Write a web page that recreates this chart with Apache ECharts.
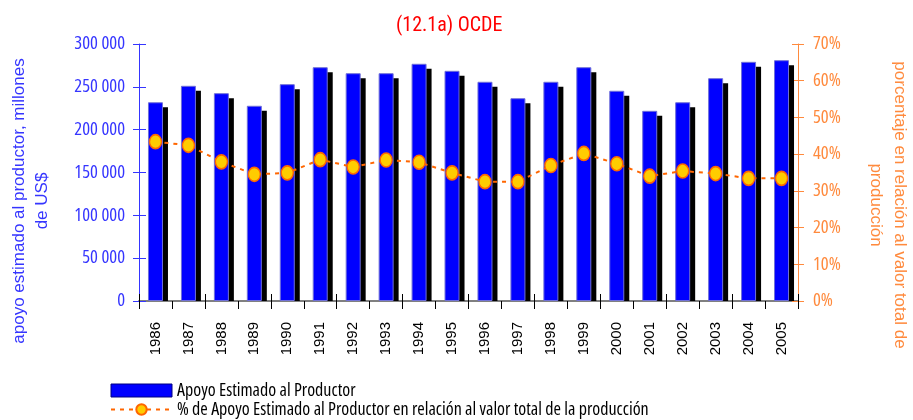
<!DOCTYPE html>
<html>
<head>
<meta charset="utf-8">
<script src="https://cdn.jsdelivr.net/npm/echarts@6/dist/echarts.min.js"></script>
<style>
  html, body { margin: 0; padding: 0; background: #ffffff; }
  #chart { width: 913px; height: 420px; }
</style>
</head>
<body>
<div id="chart"></div>
<script>
// Years on the category axis
const years = ['1986', '1987', '1988', '1989', '1990', '1991', '1992', '1993', '1994', '1995',
               '1996', '1997', '1998', '1999', '2000', '2001', '2002', '2003', '2004', '2005'];

// Producer support estimate, millions of US$
const apoyoProductor = [232000, 251200, 242600, 227900, 253100, 272900, 265900, 265900, 276900, 268700,
                        255900, 236700, 255900, 272900, 245400, 222000, 232000, 260100, 279200, 281100];

// Support as % of the total value of production
const porcentajeProduccion = [43.4, 42.4, 37.9, 34.5, 34.9, 38.5, 36.5, 38.4, 37.8, 34.9,
                              32.5, 32.5, 36.9, 40.2, 37.4, 34.0, 35.4, 34.7, 33.4, 33.4];

// Axis ranges
const leftAxis = { min: 0, max: 300000, interval: 50000 };
const rightAxis = { min: 0, max: 70, interval: 10 };

const serieBarras = 'Apoyo Estimado al Productor';
const serieLinea = '% de Apoyo Estimado al Productor en relación al valor total de la producción';
const tituloTexto = '(12.1a) OCDE';
const nombreEjeIzq = 'apoyo estimado al productor, millones\nde US$';
const nombreEjeDer = 'porcentaje en relación al valor total de\nproducción';

// Condensed faces: Open Sans at its condensed width for labels, Roboto Condensed for the title
const COND_FAMILY = '"Open Sans", "Roboto Condensed", sans-serif';
const COND_STYLE = 'condensed';
const TITLE_FAMILY = '"Roboto Condensed", sans-serif';
const REGULAR = '"Liberation Sans", Arial, sans-serif';
const BLUE = '#3535ff';
const ORANGE = '#ff8a3d';
const BAR_W = 15;
const SHADOW = 5;

const fmtMiles = v => String(v).replace(/\B(?=(\d{3})+(?!\d))/g, ' ');

const chart = echarts.init(document.getElementById('chart'), null, { renderer: 'canvas' });

chart.setOption({
  animation: false,
  backgroundColor: '#ffffff',
  title: {
    text: tituloTexto,
    left: 391,
    top: 11,
    textStyle: { color: '#ff0000', fontSize: 20, fontWeight: 'normal', fontFamily: TITLE_FAMILY }
  },
  grid: { left: 139, right: 115, top: 44, bottom: 119, containLabel: false },
  legend: {
    orient: 'vertical',
    left: 110,
    top: 381,
    height: 80,
    itemWidth: 61,
    itemHeight: 13,
    itemGap: 0,
    padding: 0,
    selectedMode: false,
    textStyle: { color: '#000000', fontSize: 18, fontStyle: COND_STYLE, fontFamily: COND_FAMILY, lineHeight: 19 },
    data: [
      { name: serieBarras, icon: 'rect',
        itemStyle: { color: '#0000ff', borderColor: '#000080', borderWidth: 1 } },
      { name: serieLinea }
    ]
  },
  xAxis: [
    {
      type: 'category',
      data: years,
      position: 'bottom',
      boundaryGap: true,
      axisLine: { show: true, lineStyle: { color: '#808080', width: 2 } },
      axisTick: { show: true, inside: false, length: 8, lineStyle: { color: '#000000', width: 1 } },
      axisLabel: { rotate: 90, margin: 21, color: '#000000', fontSize: 15, fontFamily: REGULAR },
      splitLine: { show: false }
    },
    {
      type: 'category',
      data: years,
      position: 'bottom',
      boundaryGap: true,
      axisLine: { show: false },
      axisTick: { show: true, inside: true, length: 7, lineStyle: { color: '#000000', width: 1 } },
      axisLabel: { show: false },
      splitLine: { show: false }
    }
  ],
  yAxis: [
    {
      type: 'value',
      position: 'left',
      min: leftAxis.min, max: leftAxis.max, interval: leftAxis.interval,
      axisLine: { show: true, lineStyle: { color: BLUE, width: 1 } },
      axisTick: { show: true, inside: false, length: 6, lineStyle: { color: BLUE } },
      axisLabel: { margin: 14, color: BLUE, fontSize: 18.5, fontStyle: COND_STYLE, fontFamily: COND_FAMILY, formatter: fmtMiles },
      splitLine: { show: false }
    },
    {
      type: 'value',
      position: 'right',
      min: rightAxis.min, max: rightAxis.max, interval: rightAxis.interval,
      axisLine: { show: true, lineStyle: { color: ORANGE, width: 1 } },
      axisTick: { show: true, inside: false, length: 6, lineStyle: { color: ORANGE } },
      axisLabel: { margin: 15, color: ORANGE, fontSize: 18.5, fontStyle: COND_STYLE, fontFamily: COND_FAMILY, formatter: v => v + '%' },
      splitLine: { show: false }
    },
    {
      type: 'value',
      position: 'left',
      min: leftAxis.min, max: leftAxis.max, interval: leftAxis.interval,
      axisLine: { show: false },
      axisTick: { show: true, inside: true, length: 7, lineStyle: { color: BLUE } },
      axisLabel: { show: false },
      splitLine: { show: false }
    },
    {
      type: 'value',
      position: 'right',
      min: rightAxis.min, max: rightAxis.max, interval: rightAxis.interval,
      axisLine: { show: false },
      axisTick: { show: true, inside: true, length: 6, lineStyle: { color: ORANGE } },
      axisLabel: { show: false },
      splitLine: { show: false }
    }
  ],
  graphic: [
    {
      type: 'text',
      x: 31, y: 201,
      rotation: Math.PI / 2,
      style: {
        text: nombreEjeIzq,
        fill: BLUE,
        font: '17px ' + REGULAR,
        align: 'center',
        verticalAlign: 'middle',
        lineHeight: 23
      }
    },
    {
      type: 'text',
      x: 888, y: 205,
      rotation: -Math.PI / 2,
      style: {
        text: nombreEjeDer,
        fill: ORANGE,
        font: '17px ' + REGULAR,
        align: 'center',
        verticalAlign: 'middle',
        lineHeight: 24
      }
    }
  ],
  series: [
    {
      // black drop shadow behind each bar, offset right and down, stopping at the baseline
      name: 'sombra',
      type: 'custom',
      xAxisIndex: 0,
      yAxisIndex: 0,
      z: 1,
      silent: true,
      data: apoyoProductor.map((v, i) => [i, v]),
      renderItem: (params, api) => {
        const top = api.coord([api.value(0), api.value(1)]);
        const base = api.coord([api.value(0), 0]);
        return {
          type: 'rect',
          shape: {
            x: top[0] - BAR_W / 2 + SHADOW,
            y: top[1] + SHADOW,
            width: BAR_W,
            height: Math.max(0, base[1] - top[1] - SHADOW)
          },
          style: { fill: '#000000' }
        };
      }
    },
    {
      name: serieBarras,
      type: 'bar',
      xAxisIndex: 0,
      yAxisIndex: 0,
      z: 2,
      data: apoyoProductor,
      barWidth: BAR_W,
      itemStyle: { color: '#0000ff', borderColor: '#7070d8', borderWidth: 1 },
      emphasis: { disabled: true }
    },
    {
      name: serieLinea,
      type: 'line',
      xAxisIndex: 0,
      yAxisIndex: 1,
      data: porcentajeProduccion,
      symbol: 'circle',
      symbolSize: [12, 14],
      z: 5,
      lineStyle: { color: '#ff6600', width: 2, type: [4, 5] },
      itemStyle: { color: '#ffcc00', borderColor: '#ff6600', borderWidth: 1.5 },
      emphasis: { disabled: true }
    }
  ]
});
</script>
</body>
</html>
